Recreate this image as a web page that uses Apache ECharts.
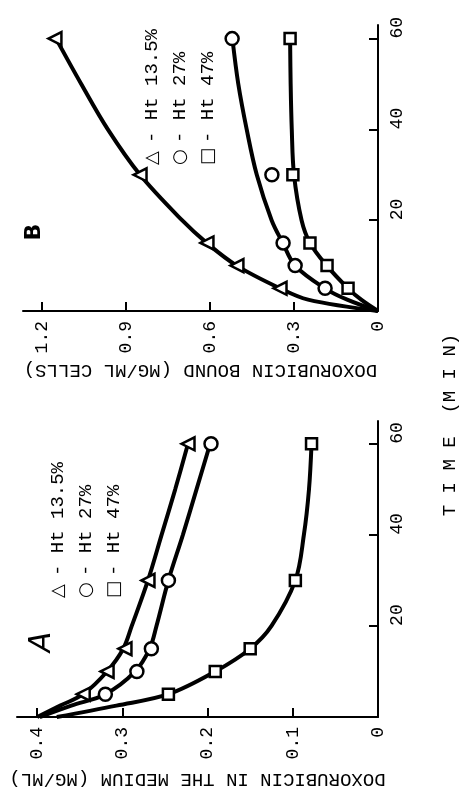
<!DOCTYPE html>
<html><head><meta charset="utf-8">
<script src="https://cdn.jsdelivr.net/npm/echarts@6/dist/echarts.min.js"></script>
<style>html,body{margin:0;padding:0;background:#fff}#c{width:464px;height:795px}</style>
</head><body><div id="c"></div>
<script>
// ---- data (time in min, concentration in mg/ml) ----
const markerTimes = [5, 10, 15, 30, 60];
const curveTimes = [0, 2.5, 5, 10, 15, 20, 30, 40, 50, 60];
const legendNames = ['Ht 13.5%', 'Ht 27%', 'Ht 47%'];

// Panel A: doxorubicin in the medium
const mediumMarkers135 = [0.346, 0.318, 0.297, 0.270, 0.223];
const mediumMarkers27  = [0.320, 0.283, 0.266, 0.246, 0.196];
const mediumMarkers47  = [0.246, 0.191, 0.150, 0.097, 0.078];
const mediumCurve135 = [0.400, 0.373, 0.346, 0.318, 0.299, 0.289, 0.270, 0.254, 0.238, 0.223];
const mediumCurve27  = [0.397, 0.360, 0.320, 0.285, 0.268, 0.260, 0.246, 0.229, 0.213, 0.197];
const mediumCurve47  = [0.377, 0.307, 0.246, 0.191, 0.150, 0.125, 0.097, 0.087, 0.081, 0.078];

// Panel B: doxorubicin bound to cells
const boundMarkers135 = [0.350, 0.504, 0.611, 0.850, 1.154];
const boundMarkers27  = [0.189, 0.296, 0.339, 0.379, 0.521];
const boundMarkers47  = [0.107, 0.182, 0.243, 0.304, 0.314];
const boundCurve135 = [0.000, 0.250, 0.350, 0.505, 0.612, 0.700, 0.850, 0.965, 1.060, 1.150];
const boundCurve27  = [0.000, 0.110, 0.190, 0.296, 0.340, 0.380, 0.433, 0.469, 0.499, 0.520];
const boundCurve47  = [0.000, 0.060, 0.107, 0.183, 0.243, 0.273, 0.300, 0.308, 0.312, 0.314];

// tick labels
const mediumTicks = [0, 0.1, 0.2, 0.3, 0.4];
const boundTicks = [0, 0.3, 0.6, 0.9, 1.2];
const timeTicks = [0, 20, 40, 60];
const timeLabels = [20, 40, 60];

// ---- chart ----
const MONO = "'Liberation Mono','DejaVu Sans Mono',monospace";
const BLACK = '#000';
const pairs = (vals, times) => vals.map((v, i) => [v, times[i]]);

function concAxis(gridIndex, max, ticks, name, nameGap, digits) {
  return {
    gridIndex, type: 'value', min: 0, max, inverse: true, position: 'bottom',
    axisLine: { onZero: false, lineStyle: { color: BLACK, width: 2 } },
    axisTick: { inside: true, length: 9, customValues: ticks, lineStyle: { color: BLACK, width: 2 } },
    axisLabel: { customValues: ticks, rotate: 90, margin: 10, color: BLACK, fontFamily: MONO, fontSize: 18,
      formatter: v => (v === 0 ? '0' : v.toFixed(digits)) },
    splitLine: { show: false },
    name, nameLocation: 'middle', nameRotate: 180, nameGap,
    nameTextStyle: { color: BLACK, fontFamily: MONO, fontSize: 19, align: 'center', verticalAlign: 'middle' }
  };
}
function timeAxis(gridIndex, max) {
  return {
    gridIndex, type: 'value', min: 0, max, position: 'right',
    axisLine: { onZero: false, lineStyle: { color: BLACK, width: 2 } },
    axisTick: { inside: true, length: 9, customValues: timeTicks, lineStyle: { color: BLACK, width: 2 } },
    axisLabel: { customValues: timeLabels, rotate: 90, margin: 10, align: 'left', verticalAlign: 'top',
      color: BLACK, fontFamily: MONO, fontSize: 18 },
    splitLine: { show: false }
  };
}
function curve(axisIdx, vals) {
  return { type: 'line', xAxisIndex: axisIdx, yAxisIndex: axisIdx, data: pairs(vals, curveTimes),
    smooth: 0.35, symbol: 'none', lineStyle: { color: BLACK, width: 4 }, z: 2, silent: true };
}
function marks(axisIdx, vals, symbol, rot) {
  return { type: 'scatter', xAxisIndex: axisIdx, yAxisIndex: axisIdx, data: pairs(vals, markerTimes),
    symbol, symbolRotate: rot, symbolSize: symbol === 'rect' ? 11 : 13,
    itemStyle: { color: '#fff', borderColor: BLACK, borderWidth: 2.5, opacity: 1 }, z: 5 };
}
function legendBlock(x, y, glyph, label) {
  return { type: 'group', x, y, rotation: Math.PI / 2, children: [
    { type: 'text', x: 0, y: 0, style: { text: glyph, fontFamily: "'DejaVu Sans'", fontWeight: 'bold', fontSize: 18,
      fill: BLACK, align: 'left', verticalAlign: 'middle' } },
    { type: 'text', x: 22, y: 0, style: { text: '- ' + label, fontFamily: MONO, fontSize: 19,
      fill: BLACK, align: 'left', verticalAlign: 'middle' } }
  ]};
}

const chart = echarts.init(document.getElementById('c'), null, { renderer: 'canvas' });
chart.setOption({
  backgroundColor: '#fff',
  animation: false,
  grid: [
    { left: 23, right: 86, top: 25, bottom: 484 },
    { left: 17, right: 86, top: 421, bottom: 78 }
  ],
  xAxis: [
    concAxis(0, 1.268, boundTicks, 'DOXORUBICIN BOUND (MG/ML CELLS)', 59, 1),
    concAxis(1, 0.4237, mediumTicks, 'DOXORUBICIN IN THE MEDIUM (MG/ML)', 62, 1)
  ],
  yAxis: [ timeAxis(0, 63), timeAxis(1, 65) ],
  series: [
    curve(0, boundCurve135), curve(0, boundCurve27), curve(0, boundCurve47),
    marks(0, boundMarkers135, 'triangle', 90), marks(0, boundMarkers27, 'circle', 0), marks(0, boundMarkers47, 'rect', 0),
    curve(1, mediumCurve135), curve(1, mediumCurve27), curve(1, mediumCurve47),
    marks(1, mediumMarkers135, 'triangle', 90), marks(1, mediumMarkers27, 'circle', 0), marks(1, mediumMarkers47, 'rect', 0)
  ],
  graphic: [
    legendBlock(152, 165, '△', legendNames[0]),
    legendBlock(180, 165, '○', legendNames[1]),
    legendBlock(208, 165, '□', legendNames[2]),
    legendBlock(58, 598, '△', legendNames[0]),
    legendBlock(86, 598, '○', legendNames[1]),
    legendBlock(114, 598, '□', legendNames[2]),
    { type: 'text', x: 34, y: 232, rotation: Math.PI / 2, style: { text: 'B', fontFamily: "'DejaVu Sans'", fontWeight: 'bold',
      fontSize: 22, fill: BLACK, align: 'center', verticalAlign: 'middle' } },
    { type: 'text', x: 42, y: 642, rotation: Math.PI / 2, style: { text: 'A', fontFamily: "'DejaVu Sans'", fontStyle: 'italic',
      fontSize: 30, fill: BLACK, align: 'center', verticalAlign: 'middle' } },
    { type: 'text', x: 450, y: 425, rotation: Math.PI / 2, style: { text: 'T I M E  (M I N)', fontFamily: MONO,
      fontSize: 19, fill: BLACK, align: 'center', verticalAlign: 'middle' } }
  ]
});
</script></body></html>
